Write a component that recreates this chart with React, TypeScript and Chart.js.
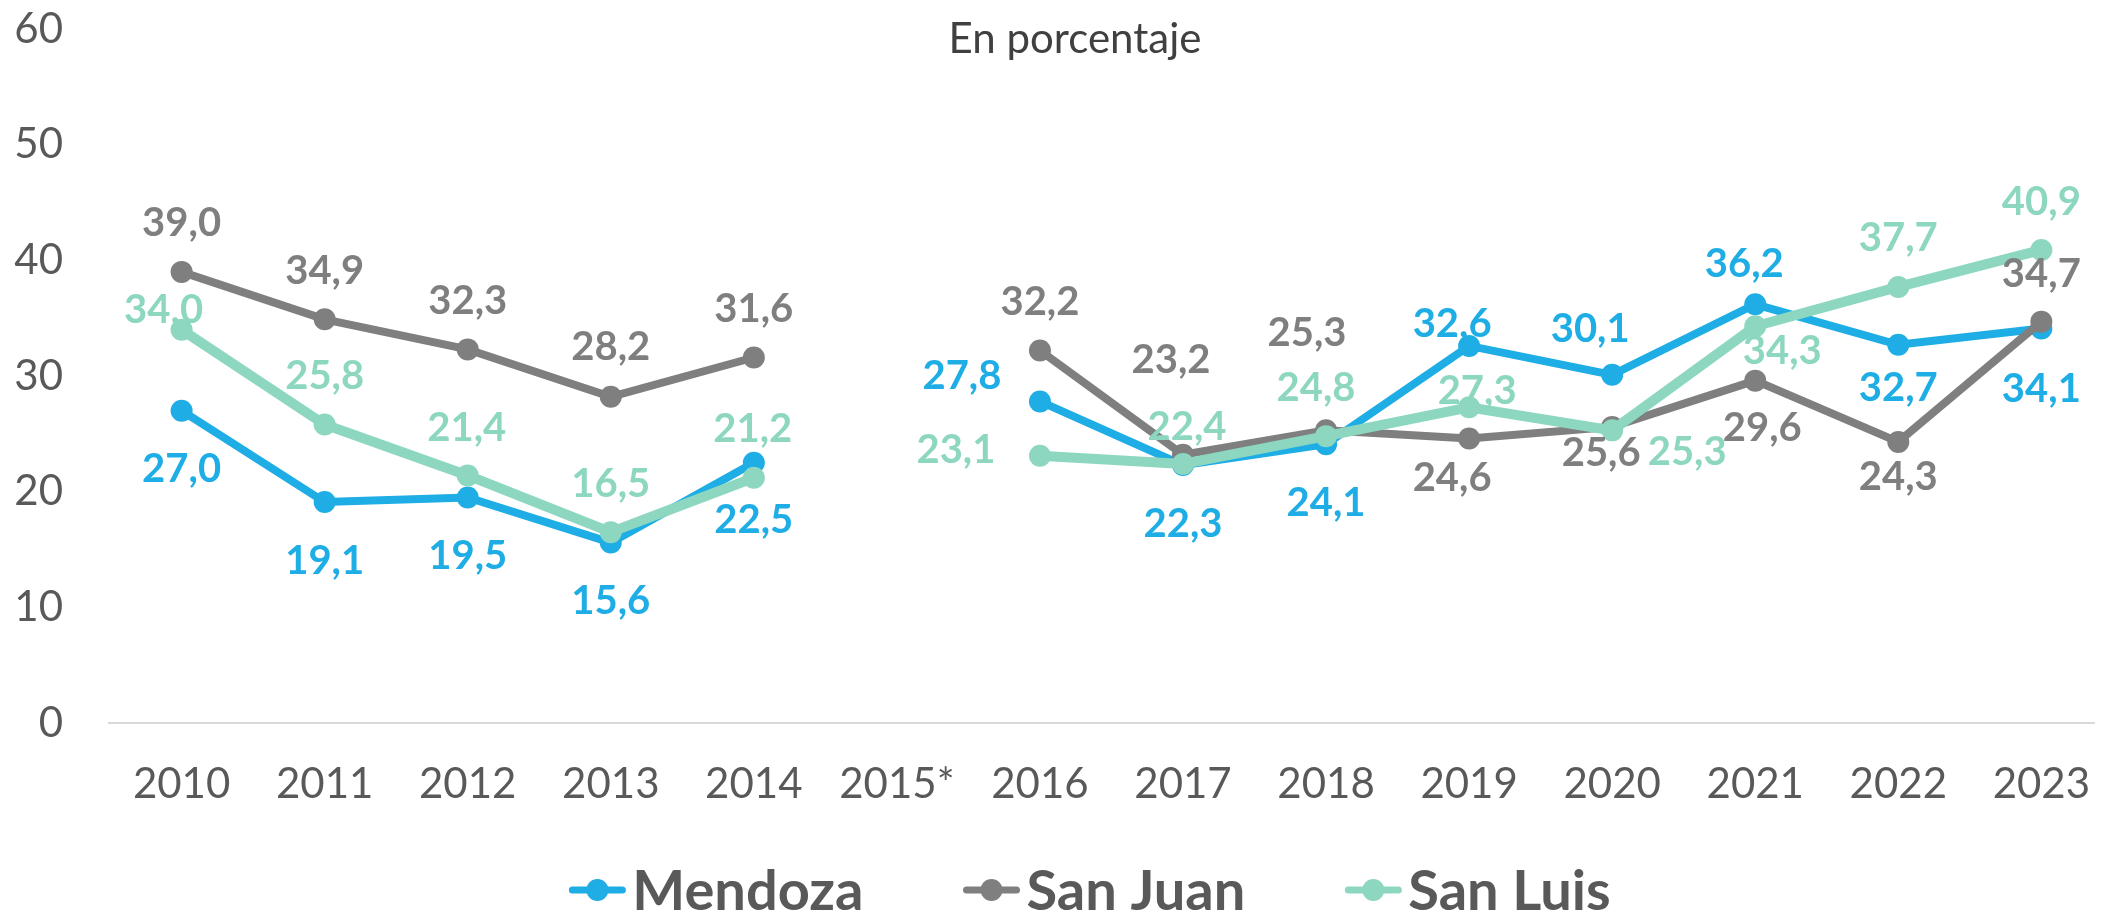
import React, { useEffect, useRef } from 'react';
import { Chart, registerables } from 'chart.js';

Chart.register(...registerables);

// ---------- data ----------
const categories = ['2010', '2011', '2012', '2013', '2014', '2015*', '2016', '2017', '2018', '2019', '2020', '2021', '2022', '2023'];
const mendoza = [27.0, 19.1, 19.5, 15.6, 22.5, null, 27.8, 22.3, 24.1, 32.6, 30.1, 36.2, 32.7, 34.1];
const sanJuan = [39.0, 34.9, 32.3, 28.2, 31.6, null, 32.2, 23.2, 25.3, 24.6, 25.6, 29.6, 24.3, 34.7];
const sanLuis = [34.0, 25.8, 21.4, 16.5, 21.2, null, 23.1, 22.4, 24.8, 27.3, 25.3, 34.3, 37.7, 40.9];
const yTicks = [0, 10, 20, 30, 40, 50, 60];
const seriesNames = ['Mendoza', 'San Juan', 'San Luis'];
const titleText = 'En porcentaje';

// ---------- styling ----------
const COLORS = ['#1EADE4', '#7F7F7F', '#8DD7C1'];
const LINE_WIDTHS = [8, 8, 10];
const ORDERS = [2, 1, 0];

// data-label offsets (px) from each point to the label centre
const mendozaLabelOffsets = [[0, 57], [0, 57], [0, 57], [0, 57], [0, 56], null, [-78, -27], [0, 57], [0, 57], [-17, -23], [-22, -47], [-11, -42], [0, 42], [0, 59]];
const sanJuanLabelOffsets = [[0, -50], [0, -50], [0, -50], [0, -51], [0, -50], null, [0, -50], [-12, -96], [-19, -99], [-17, 38], [-11, 25], [7, 46], [0, 34], [0, -49]];
const sanLuisLabelOffsets = [[-18, -21], [0, -50], [-1, -49], [0, -50], [-1, -50], null, [-84, -7], [4, -38], [-10, -50], [8, -18], [75, 20], [27, 23], [0, -50], [0, -49]];
const labelOffsets = [mendozaLabelOffsets, sanJuanLabelOffsets, sanLuisLabelOffsets];
const seriesValues = [mendoza, sanJuan, sanLuis];

const FONT = 'Lato';

const fmt = (v: number) => v.toFixed(1).replace('.', ',');

const dataLabelsPlugin = {
  id: 'dataLabels',
  afterDatasetsDraw(chart: any) {
    const ctx = chart.ctx;
    ctx.save();
    ctx.font = `bold 40px ${FONT}`;
    ctx.textAlign = 'center';
    ctx.textBaseline = 'alphabetic';
    const capH = ctx.measureText('0').actualBoundingBoxAscent;
    chart.data.datasets.forEach((ds: any, di: number) => {
      const meta = chart.getDatasetMeta(di);
      ctx.fillStyle = COLORS[di];
      meta.data.forEach((pt: any, j: number) => {
        const v = seriesValues[di][j];
        const off = labelOffsets[di][j];
        if (v === null || v === undefined || !off) return;
        ctx.fillText(fmt(v), pt.x + off[0], pt.y + off[1] + capH / 2);
      });
    });
    ctx.restore();
  },
};

const titleLegendPlugin = {
  id: 'titleLegend',
  afterDraw(chart: any) {
    const ctx = chart.ctx;
    ctx.save();
    // title
    ctx.font = `42px ${FONT}`;
    ctx.fillStyle = '#404040';
    ctx.textAlign = 'center';
    ctx.textBaseline = 'alphabetic';
    ctx.fillText(titleText, 1075, 53);

    // legend
    ctx.font = `bold 56px ${FONT}`;
    const lineW = 56;
    const gapText = 7;
    const gapItem = 100;
    const widths = seriesNames.map((n) => ctx.measureText(n).width);
    const total = widths.reduce((a, w) => a + lineW + gapText + w, 0) + gapItem * (seriesNames.length - 1);
    let x = 1090 - total / 2;
    const cy = 890;
    const capH = ctx.measureText('M').actualBoundingBoxAscent;
    seriesNames.forEach((n, i) => {
      ctx.strokeStyle = COLORS[i];
      ctx.lineWidth = 7;
      ctx.lineCap = 'round';
      ctx.beginPath();
      ctx.moveTo(x + 3, cy);
      ctx.lineTo(x + lineW - 3, cy);
      ctx.stroke();
      ctx.fillStyle = COLORS[i];
      ctx.beginPath();
      ctx.arc(x + lineW / 2, cy, 11, 0, Math.PI * 2);
      ctx.fill();
      ctx.fillStyle = '#595959';
      ctx.textAlign = 'left';
      ctx.fillText(n, x + lineW + gapText, cy + capH / 2);
      x += lineW + gapText + widths[i] + gapItem;
    });
    ctx.restore();
  },
};

export default function App() {
  const canvasRef = useRef<HTMLCanvasElement | null>(null);

  useEffect(() => {
    const canvas = canvasRef.current;
    if (!canvas) return;
    const datasets = seriesValues.map((vals, i) => ({
      label: seriesNames[i],
      data: vals.map((v, j) => ({ x: j, y: v })),
      borderColor: COLORS[i],
      backgroundColor: COLORS[i],
      borderWidth: LINE_WIDTHS[i],
      pointRadius: 11,
      pointHoverRadius: 11,
      pointBorderWidth: 0,
      pointBackgroundColor: COLORS[i],
      tension: 0,
      spanGaps: false,
      order: ORDERS[i],
      clip: false as any,
    }));

    const chart = new Chart(canvas, {
      type: 'line',
      data: { datasets: datasets as any },
      options: {
        animation: false,
        responsive: false,
        maintainAspectRatio: false,
        events: [],
        layout: { padding: { top: 29, left: 0, right: 0, bottom: 0 } },
        plugins: {
          legend: { display: false },
          tooltip: { enabled: false },
          title: { display: false },
        },
        scales: {
          x: {
            type: 'linear',
            min: -0.5075,
            max: 13.368,
            afterBuildTicks: (s: any) => {
              s.ticks = categories.map((_, i) => ({ value: i }));
            },
            afterFit: (s: any) => {
              s.height = 189;
              s.paddingLeft = 0;
              s.paddingRight = 0;
            },
            ticks: {
              callback: (v: any) => categories[v] ?? '',
              font: { family: FONT, size: 42 },
              color: '#595959',
              padding: 36,
              maxRotation: 0,
              minRotation: 0,
              autoSkip: false,
            },
            grid: { display: false, drawTicks: false },
            border: { display: true, color: '#D9D9D9', width: 2 },
          },
          y: {
            min: 0,
            max: 60,
            afterBuildTicks: (s: any) => {
              s.ticks = yTicks.map((v) => ({ value: v }));
            },
            afterFit: (s: any) => {
              s.width = 109;
              s.paddingTop = 0;
              s.paddingBottom = 0;
            },
            ticks: {
              font: { family: FONT, size: 42 },
              color: '#595959',
              padding: 46,
            },
            grid: { display: false, drawTicks: false },
            border: { display: false },
          },
        },
      },
      plugins: [dataLabelsPlugin, titleLegendPlugin],
    });
    return () => chart.destroy();
  }, []);

  return (
    <div style={{ position: 'absolute', left: 0, top: 0, width: 2105, height: 912, background: '#ffffff' }}>
      <canvas ref={canvasRef} width={2105} height={912} style={{ width: 2105, height: 912, display: 'block' }} />
    </div>
  );
}
